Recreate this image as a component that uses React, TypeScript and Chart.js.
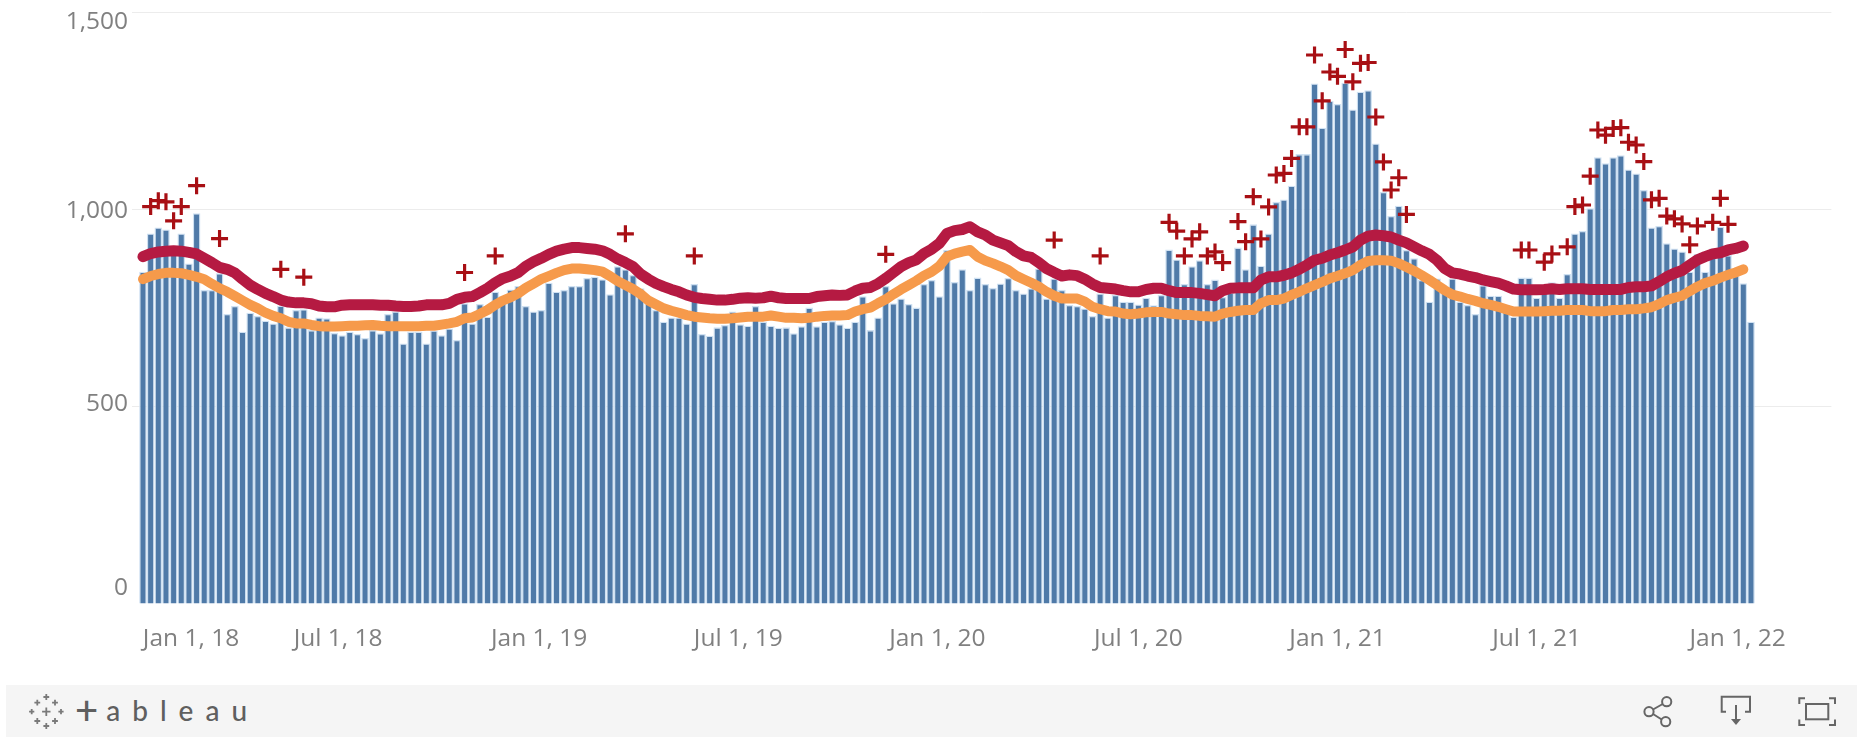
import React, { useEffect, useRef } from "react";
import { Chart, registerables } from "chart.js";

Chart.register(...registerables);

// Weekly deaths, one value per week
const weeklyBars = [
  842, 939, 954, 949, 900, 939, 863, 990, 796, 796, 838, 735, 755, 690, 738, 730, 718, 711, 756, 701, 745, 747, 694, 726, 724, 687, 681, 690, 684, 674, 694, 686, 735, 741, 660, 690, 690, 660, 693, 681, 698, 669, 762,
  711, 760, 728, 791, 780, 797, 806, 755, 741, 745, 814, 791, 796, 806, 806, 826, 829, 823, 785, 856, 848, 834, 800, 762, 745, 715, 726, 726, 711, 811, 684, 680, 701, 707, 741, 709, 705, 755, 715, 705, 700, 701, 686,
  704, 751, 704, 715, 717, 709, 700, 715, 780, 694, 726, 806, 762, 774, 760, 751, 811, 821, 780, 897, 816, 848, 796, 827, 811, 801, 812, 826, 796, 787, 800, 850, 774, 825, 796, 758, 755, 749, 730, 787, 726, 783, 766,
  766, 759, 776, 757, 783, 898, 873, 811, 856, 871, 811, 822, 778, 790, 903, 848, 962, 857, 939, 1019, 1025, 1060, 1140, 1140, 1319, 1207, 1275, 1267, 1321, 1253, 1298, 1302, 1167, 1044, 983, 1009, 897, 876, 821, 766, 825, 790, 825,
  766, 758, 735, 808, 781, 781, 758, 728, 827, 827, 776, 790, 815, 776, 836, 939, 945, 1003, 1132, 1117, 1132, 1137, 1101, 1091, 1049, 954, 958, 914, 901, 893, 842, 887, 842, 901, 956, 884, 834, 813, 715,
];

// Upper threshold line
const upperLine = [
  880, 888, 892, 894, 895, 894, 891, 887, 876, 865, 853, 848, 839, 823, 808, 797, 787, 779, 770, 765, 763, 763, 761, 755, 753, 753, 757, 758, 758, 758, 758, 757, 757, 755, 754, 754, 755, 758, 758, 758, 762, 772, 777,
  779, 789, 800, 814, 825, 831, 840, 856, 867, 876, 886, 894, 899, 903, 903, 901, 899, 895, 886, 874, 865, 855, 836, 823, 812, 804, 797, 791, 783, 777, 774, 772, 770, 770, 772, 775, 776, 775, 776, 780, 776, 774, 774,
  774, 774, 779, 781, 783, 782, 783, 793, 800, 802, 812, 825, 840, 855, 865, 872, 888, 899, 914, 939, 946, 949, 956, 943, 935, 922, 915, 908, 893, 882, 878, 865, 850, 840, 831, 834, 832, 823, 811, 802, 800, 798, 794,
  791, 791, 797, 800, 800, 794, 789, 789, 789, 787, 784, 781, 794, 800, 801, 801, 801, 821, 829, 829, 833, 839, 848, 859, 871, 876, 884, 890, 897, 905, 922, 932, 935, 933, 930, 922, 915, 905, 895, 886, 871, 850, 839,
  836, 831, 827, 821, 817, 813, 806, 798, 796, 796, 796, 797, 799, 797, 799, 799, 799, 797, 797, 797, 797, 797, 802, 804, 804, 806, 817, 829, 838, 845, 859, 872, 880, 887, 890, 897, 901, 907,
];

// Average expected line
const averageLine = [
  823, 831, 836, 839, 839, 838, 834, 829, 823, 811, 800, 791, 780, 769, 758, 749, 738, 730, 724, 715, 711, 711, 707, 704, 703, 703, 704, 705, 705, 706, 707, 705, 704, 704, 704, 704, 704, 705, 705, 708, 711, 715, 724,
  726, 735, 745, 758, 769, 777, 787, 801, 812, 823, 831, 839, 846, 850, 850, 848, 846, 842, 831, 818, 808, 798, 785, 769, 759, 749, 743, 738, 732, 728, 726, 724, 723, 723, 724, 726, 728, 728, 728, 731, 728, 725, 725,
  724, 725, 728, 730, 731, 731, 732, 741, 747, 751, 762, 772, 785, 797, 808, 819, 832, 842, 856, 880, 888, 893, 897, 880, 870, 863, 855, 846, 832, 823, 814, 804, 791, 781, 774, 774, 774, 766, 753, 747, 742, 741, 736,
  734, 736, 739, 740, 740, 736, 734, 732, 732, 730, 729, 728, 736, 740, 743, 745, 745, 762, 770, 770, 774, 783, 791, 800, 808, 816, 825, 831, 838, 846, 859, 869, 871, 871, 870, 863, 854, 844, 833, 821, 808, 795, 784,
  779, 773, 768, 762, 758, 753, 747, 741, 741, 741, 741, 742, 743, 743, 745, 745, 745, 742, 742, 742, 745, 745, 747, 747, 749, 752, 760, 770, 776, 781, 793, 804, 813, 819, 827, 834, 840, 848,
];

// Plus marks: the week each one sits on, and its value
const plusWeeks = [
  1, 2, 3, 4, 5, 7, 10, 18, 21, 42, 46, 63, 72, 97, 119, 125,
  134, 135, 136, 137, 138, 139, 140, 141, 143, 144, 145, 146, 147, 148, 149, 150, 151, 152, 153, 154, 155, 156, 157, 158, 159, 160, 161, 162, 163, 164, 165,
  180, 181, 183, 184, 186, 187, 188, 189, 190, 191, 192, 193, 194, 195, 196, 197, 198, 199, 200, 201, 202, 203, 205, 206, 207,
];
const plusValues = [
  1007, 1022, 1019, 971, 1007, 1060, 926, 848, 828, 840, 882, 938, 882, 886, 922, 882,
  967, 945, 882, 925, 943, 882, 892, 865, 969, 918, 1032, 925, 1006, 1087, 1091, 1129, 1209, 1209, 1391, 1275, 1348, 1337, 1405, 1323, 1370, 1372, 1234, 1120, 1049, 1080, 987,
  897, 897, 866, 887, 905, 1007, 1011, 1084, 1201, 1188, 1205, 1207, 1170, 1163, 1121, 1024, 1028, 983, 976, 963, 910, 958, 967, 1028, 962,
];

const xTickWeeks = [0, 26, 52, 78, 104, 130, 156, 182, 208];
const xTickLabels = ["Jan 1, 18", "Jul 1, 18", "Jan 1, 19", "Jul 1, 19", "Jan 1, 20", "Jul 1, 20", "Jan 1, 21", "Jul 1, 21", "Jan 1, 22"];
const yTickValues = [0, 500, 1000, 1500];

// Tableau nudges some axis labels off their tick
const xLabelNudge: Record<string, number> = {
  "Jan 1, 18": 48, "Jul 1, 18": -4, "Jan 1, 19": -2, "Jul 1, 19": -2, "Jan 1, 20": -2, "Jul 1, 20": 0, "Jan 1, 21": 0, "Jul 1, 21": 0, "Jan 1, 22": 2,
};
const yLabelNudge: Record<string, number> = { "1,500": 10.5, "1,000": 2, "500": -3, "0": -15.5 };

const LEAD = 1;
const TRAIL = 10;
const pad = (a: (number | null)[]) => [...Array(LEAD).fill(null), ...a, ...Array(TRAIL).fill(null)];
const categories = Array.from({ length: LEAD + weeklyBars.length + TRAIL }, (_, i) => `W${i - LEAD}`);
const plusSeries = weeklyBars.map((_, i) => {
  const j = plusWeeks.indexOf(i);
  return j < 0 ? null : plusValues[j];
});

const FONT = '"Open Sans"';

const nudged = new WeakSet<object>();
const labelNudgePlugin = {
  id: "labelNudge",
  beforeDraw(chart: any) {
    const apply = (scale: any, axis: 0 | 1, table: Record<string, number>) => {
      const items = scale.getLabelItems();
      if (nudged.has(items)) return;
      nudged.add(items);
      for (const it of items) {
        const d = table[String(it.label)];
        if (d) it.options.translation[axis] += d;
      }
    };
    apply(chart.scales.x, 0, xLabelNudge);
    apply(chart.scales.y, 1, yLabelNudge);
  },
};

const zeroPadding = (s: any) => {
  s.paddingLeft = 0;
  s.paddingRight = 0;
  s.paddingTop = 0;
  s.paddingBottom = 0;
};

const cross = (x: number, y: number, s: number, key: string) => (
  <path key={key} d={`M${x - s} ${y}H${x + s}M${x} ${y - s}V${y + s}`} />
);

function Toolbar() {
  const logo = [
    [46.3, 136, 2.9], [37.3, 141.7, 2.9], [55, 141.7, 2.9],
    [31.7, 150.7, 2.6], [46.3, 150.7, 4.2], [61, 150.7, 2.6],
    [37.3, 160, 2.9], [55, 160, 2.9], [46.3, 165, 2.9],
  ];
  return (
    <svg width={1862} height={737} style={{ position: "absolute", left: 0, top: 0, pointerEvents: "none" }}>
      <rect x={6} y={685} width={1851} height={52} fill="#f5f5f5" />
      <g stroke="#7a7a7a" strokeWidth={1.8} fill="none">
        {logo.map(([x, y, s], i) => cross(x, y + 561, s, `c${i}`))}
      </g>
      <text x={75} y={721} fontFamily="Lato" fontWeight={500} fontSize={28} letterSpacing={12} fill="#5f5f5f">
        <tspan fontSize={40} dy={4} letterSpacing={8}>+</tspan>
        <tspan dy={-4}>ableau</tspan>
      </text>
      <g stroke="#666" strokeWidth={2} fill="none">
        <circle cx={1666.7} cy={701.7} r={4.6} />
        <circle cx={1649} cy={711.7} r={4.6} />
        <circle cx={1665.7} cy={721.7} r={4.6} />
        <path d="M1653 709.5L1662.7 704M1653 714L1661.7 719.5" />
        <path d="M1726 711.7H1721.7V696.7H1750V711.7H1745" />
        <path d="M1736 705V720" />
        <path d="M1799.3 704V698.3H1805M1829 698.3H1835V704M1835 719.5V725H1829M1805 725H1799.3V719.5" />
        <rect x={1806} y={704} width={22.3} height={15.3} />
      </g>
      <path d="M1731 719H1741L1736 725Z" fill="#666" />
    </svg>
  );
}

export default function App() {
  const ref = useRef<HTMLCanvasElement>(null);
  useEffect(() => {
    document.body.style.overflow = "hidden";
    const chart = new Chart(ref.current!, {
      type: "bar",
      plugins: [labelNudgePlugin],
      data: {
        labels: categories,
        datasets: [
          {
            type: "line",
            label: "Exceeds threshold",
            data: pad(plusSeries),
            showLine: false,
            pointStyle: "cross",
            pointRadius: 8.5,
            pointBorderWidth: 3.2,
            pointBorderColor: "#a80f14",
            pointBackgroundColor: "#a80f14",
            order: 1,
          },
          {
            type: "line",
            label: "Upper threshold",
            data: pad(upperLine),
            borderColor: "#b51a42",
            borderWidth: 11,
            borderCapStyle: "round",
            borderJoinStyle: "round",
            pointRadius: 0,
            tension: 0,
            spanGaps: false,
            order: 2,
          },
          {
            type: "line",
            label: "Average expected",
            data: pad(averageLine),
            borderColor: "#f69a4b",
            borderWidth: 10,
            borderCapStyle: "round",
            borderJoinStyle: "round",
            pointRadius: 0,
            tension: 0,
            order: 3,
          },
          {
            type: "bar",
            label: "Weekly count",
            data: pad(weeklyBars),
            backgroundColor: "#4f7aa8",
            borderColor: "#cfe1f2",
            borderWidth: 1.3,
            borderSkipped: "bottom",
            inflateAmount: 0,
            categoryPercentage: 1,
            barPercentage: 1,
            order: 4,
          },
        ],
      },
      options: {
        responsive: false,
        animation: false,
        layout: { padding: { left: 0, right: 30.6, top: 12, bottom: 0 } },
        plugins: { legend: { display: false }, tooltip: { enabled: false } },
        scales: {
          x: {
            grid: { display: false },
            border: { display: false },
            ticks: {
              autoSkip: false,
              maxRotation: 0,
              minRotation: 0,
              padding: 12,
              color: "#808080",
              font: { family: FONT, size: 24.5 },
              callback(_v: any, i: number) {
                const j = xTickWeeks.indexOf(i - LEAD);
                return j < 0 ? null : xTickLabels[j];
              },
            },
            afterFit(s: any) {
              s.height = 133;
              zeroPadding(s);
            },
          },
          y: {
            min: 0,
            max: 1500,
            afterBuildTicks(s: any) {
              s.ticks = yTickValues.map((value) => ({ value }));
            },
            grid: {
              color: (c: any) => (c.tick && c.tick.value === 0 ? "rgba(0,0,0,0)" : "#ececec"),
              lineWidth: 1,
              drawTicks: false,
            },
            border: { display: false },
            ticks: {
              padding: 3.5,
              color: "#808080",
              font: { family: FONT, size: 24.5 },
              callback: (v: any) => Number(v).toLocaleString("en-US"),
            },
            afterFit(s: any) {
              s.width = 131.5;
              zeroPadding(s);
            },
          },
        },
      },
    } as any);
    return () => chart.destroy();
  }, []);
  return (
    <div style={{ position: "absolute", left: 0, top: 0, width: 1862, height: 737, background: "#fff", overflow: "hidden" }}>
      <canvas ref={ref} width={1862} height={737} style={{ display: "block" }} />
      <Toolbar />
    </div>
  );
}
